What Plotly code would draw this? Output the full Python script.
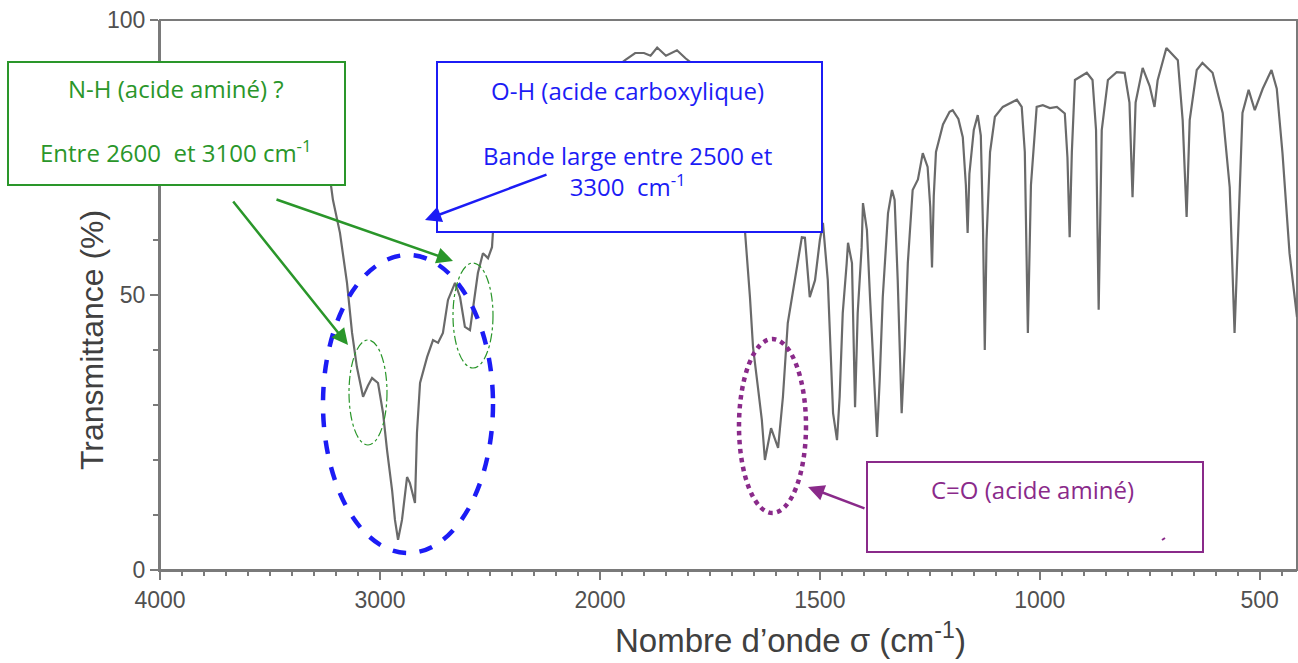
import plotly.graph_objects as go

# ---- data: IR spectrum (wavenumber in cm-1, transmittance in %) ----
wn_high = [4000, 3900, 3800, 3700, 3600, 3500, 3400, 3330, 3270, 3223, 3214, 3182, 3150, 3127,
           3105, 3077, 3055, 3036, 3009, 2986, 2968, 2945, 2932, 2918, 2900, 2877, 2864, 2841,
           2832, 2818, 2786, 2759, 2736, 2714, 2691, 2659, 2636, 2614, 2591, 2577, 2555, 2532,
           2509, 2491, 2486, 2450, 2400, 2300, 2200, 2100, 2000]
t_high = [86, 87, 86, 85, 84, 83, 81, 78, 74, 70, 67.3, 61.3, 52.2, 43.1,
          36.9, 31.5, 33.5, 34.9, 34.0, 28.5, 21.8, 14.5, 9.1, 5.5, 9.1, 16.9, 15.8, 12.2,
          24.9, 34.0, 38.7, 41.8, 41.3, 43.1, 49.1, 52.2, 49.6, 44.2, 43.6, 47.8, 54.0, 57.6,
          56.7, 58.7, 61.8, 66, 71, 78, 83, 87, 90]

wn_low = [2000, 1970, 1943, 1920, 1900, 1885, 1870, 1850, 1825, 1805, 1789, 1760, 1730, 1700,
          1680, 1670, 1659, 1652, 1641, 1632, 1625, 1611, 1595, 1584, 1573, 1557, 1541, 1534,
          1527, 1523, 1511, 1500, 1493, 1482, 1470, 1461, 1455, 1448, 1439, 1436, 1427, 1420,
          1414, 1405, 1402, 1393, 1386, 1380, 1375, 1370, 1364, 1357, 1345, 1336, 1330, 1323,
          1314, 1307, 1300, 1289, 1277, 1266, 1255, 1249, 1245, 1241, 1236, 1220, 1205, 1198,
          1185, 1175, 1168, 1164, 1160, 1150, 1141, 1134, 1129, 1125, 1121, 1113, 1102, 1084,
          1052, 1041, 1034, 1027, 1020, 1007, 993, 977, 961, 943, 937, 932, 927, 920, 893, 880,
          872, 866, 859, 845, 825, 807, 796, 789, 782, 766, 750, 739, 732, 712, 686, 675, 666,
          659, 643, 630, 607, 584, 568, 557, 545, 539, 525, 511, 493, 473, 461, 448, 432, 420, 415]
t_low = [90, 91, 92.7, 94, 94, 93.5, 95, 93.5, 94.5, 93, 92, 88, 82, 73,
         65, 61.3, 49.6, 40.5, 33.3, 27.3, 20.0, 25.8, 22.2, 31.5, 44.9, 52.7, 60.5, 60.4,
         52.7, 49.6, 52.7, 60.0, 63.1, 52.7, 28.5, 23.6, 31.5, 46.7, 55.8, 59.5, 55.8, 29.6,
         46.7, 58.7, 66.7, 61.8, 49.6, 39.5, 31.5, 24.2, 34.5, 49.6, 64.9, 69.1, 67.3, 52.7,
         28.5, 40.5, 55.8, 69.1, 71.0, 75.8, 73.3, 66, 55, 68, 76, 81, 83.3, 83.6,
         82, 78.7, 70, 61.3, 72, 80, 82.7, 79, 62, 40, 60, 76, 82.4, 84.2,
         85.5, 84.2, 76, 43.1, 70, 84.2, 84.5, 84, 84.2, 83, 75, 60.5, 76, 89.1, 90.4, 89.1,
         80, 47.3, 80, 89.1, 90.5, 90.4, 85, 67.8, 85, 91.3, 88, 84.2, 89, 94.9, 92.7, 81.8, 64.2,
         81.8, 90.9, 92.2, 90.4, 83.1, 69.6, 43.1, 69.6, 83.1, 87.3, 83.6, 87.5, 90.9, 87.5, 75.8, 57.6, 48.5, 46]

x_major_high = [4000, 3500, 3000, 2500, 2000]
x_labels_high = ["4000", "", "3000", "", "2000"]
x_major_low = [1500, 1000, 500]
x_labels_low = ["1500", "1000", "500"]
y_major = [0, 50, 100]

# ---- layout geometry (pixels) ----
W, H = 1298, 663
L, R, T, B = 160, 1297, 20, 570
SPLIT = 440 / (R - L)


def px(x):
    return (x - L) / (R - L)


def py(y):
    return (B - y) / (B - T)


AX = "#7a7a7a"
LINE = "#6a6a6a"
TICKFONT = dict(family="Liberation Sans, Arial", size=23, color="#505050")
BOXFONT = "Open Sans, Lato, sans-serif"
GREEN = "#2a962a"
BLUE = "#1c1cf5"
PURPLE = "#8a2a8a"

fig = go.Figure()
fig.add_trace(go.Scatter(x=wn_high, y=t_high, xaxis="x", yaxis="y", mode="lines",
                         line=dict(color=LINE, width=2.2), hoverinfo="skip", showlegend=False))
fig.add_trace(go.Scatter(x=wn_low, y=t_low, xaxis="x2", yaxis="y", mode="lines",
                         line=dict(color=LINE, width=2.2), hoverinfo="skip", showlegend=False))

common = dict(showline=True, linecolor=AX, linewidth=2, showgrid=False, zeroline=False,
              ticks="outside", ticklen=8, tickwidth=2, tickcolor=AX, tickfont=TICKFONT,
              anchor="y", automargin=False)
fig.update_layout(
    xaxis=dict(domain=[0, SPLIT], range=[4000, 2000], tickmode="array",
               tickvals=x_major_high, ticktext=x_labels_high,
               minor=dict(tickmode="array", tickvals=list(range(2000, 4001, 100)),
                          ticks="outside", ticklen=4, tickwidth=1.5, tickcolor=AX), **common),
    xaxis2=dict(domain=[SPLIT, 1], range=[2000, 415], tickmode="array",
                tickvals=x_major_low, ticktext=x_labels_low,
                minor=dict(tickmode="array", tickvals=list(range(450, 2000, 50)),
                           ticks="outside", ticklen=4, tickwidth=1.5, tickcolor=AX), **common),
    yaxis=dict(domain=[0, 1], range=[0, 100], tickmode="array", tickvals=y_major,
               minor=dict(tickmode="array", tickvals=list(range(10, 100, 10)),
                          ticks="outside", ticklen=5, tickwidth=1.5, tickcolor=AX),
               showline=True, linecolor=AX, linewidth=2, showgrid=False, zeroline=False,
               ticks="outside", ticklen=8, tickwidth=2, tickcolor=AX, tickfont=TICKFONT,
               anchor="x", automargin=False),
    width=W, height=H, autosize=False,
    margin=dict(l=L, r=W - R, t=T, b=H - B, pad=0, autoexpand=False),
    paper_bgcolor="white", plot_bgcolor="white",
)

shapes = []
# plot frame
shapes.append(dict(type="rect", xref="paper", yref="paper", x0=0, x1=1, y0=0, y1=1,
                   line=dict(color=AX, width=2), layer="below"))
# ellipses
shapes.append(dict(type="circle", xref="paper", yref="paper", x0=px(323), x1=px(493),
                   y0=py(553), y1=py(255), line=dict(color=BLUE, width=4.5, dash="dash")))
shapes.append(dict(type="circle", xref="paper", yref="paper", x0=px(349), x1=px(387),
                   y0=py(445), y1=py(340), line=dict(color=GREEN, width=1.2, dash="dashdot")))
shapes.append(dict(type="circle", xref="paper", yref="paper", x0=px(453), x1=px(493),
                   y0=py(368), y1=py(263), line=dict(color=GREEN, width=1.2, dash="dashdot")))
shapes.append(dict(type="circle", xref="paper", yref="paper", x0=px(739), x1=px(806),
                   y0=py(513), y1=py(339), line=dict(color=PURPLE, width=4.5, dash="dot")))
# label boxes
for (x0, y0, x1, y1, c) in [(8, 62, 345, 185, GREEN), (437, 62, 822, 232, BLUE),
                            (867, 462, 1203, 552, PURPLE)]:
    shapes.append(dict(type="rect", xref="paper", yref="paper", x0=px(x0), x1=px(x1),
                       y0=py(y1), y1=py(y0), fillcolor="white",
                       line=dict(color=c, width=2), layer="above"))
# small stray mark inside the purple box
shapes.append(dict(type="line", xref="paper", yref="paper", x0=px(1162), x1=px(1165),
                   y0=py(540), y1=py(538), line=dict(color=PURPLE, width=2), layer="above"))
fig.update_layout(shapes=shapes)

ann = []


def label(text, x, y, color, size=24):
    ann.append(dict(text=text, x=px(x), y=py(y), xref="paper", yref="paper",
                    showarrow=False, xanchor="center", yanchor="middle",
                    font=dict(family=BOXFONT, size=size, color=color)))


label("N-H (acide aminé) ?", 176, 88, GREEN)
label("Entre 2600  et 3100 cm<sup>-1</sup>", 176, 151, GREEN)
label("O-H (acide carboxylique)", 627, 90, BLUE)
label("Bande large entre 2500 et<br>3300  cm<sup>-1</sup>", 627, 171, BLUE)
label("C=O (acide aminé)", 1032, 489, PURPLE)


def arrow(hx, hy, tx, ty, color):
    ann.append(dict(text="", x=px(hx), y=py(hy), xref="paper", yref="paper",
                    showarrow=True, ax=tx - hx, ay=ty - hy, arrowhead=2, arrowsize=1.3,
                    arrowwidth=2.5, arrowcolor=color, standoff=0, startstandoff=0))


arrow(348, 345, 232, 200, GREEN)
arrow(453, 261, 275, 199, GREEN)
arrow(425, 220, 548, 174, BLUE)
arrow(808, 487, 866, 509, PURPLE)

# axis titles
ann.append(dict(text="Transmittance (%)", x=px(92), y=py(340), xref="paper", yref="paper",
                showarrow=False, textangle=-90, xanchor="center", yanchor="middle",
                font=dict(family="Liberation Sans, Arial", size=32, color="#404040")))
ann.append(dict(text="Nombre d\u2019onde \u03c3 (cm<sup>-1</sup>)", x=px(790), y=py(638),
                xref="paper", yref="paper", showarrow=False, xanchor="center", yanchor="middle",
                font=dict(family="Liberation Sans, Arial", size=33, color="#404040")))
fig.update_layout(annotations=ann)

post = ("document.body.style.margin='0';document.body.style.overflow='hidden';"
        "var gd=document.getElementById('{plot_id}');"
        "Plotly.relayout(gd,{width:1298,height:663});")
fig.write_html("out.html", config={"responsive": False, "displayModeBar": False},
               post_script=post)
